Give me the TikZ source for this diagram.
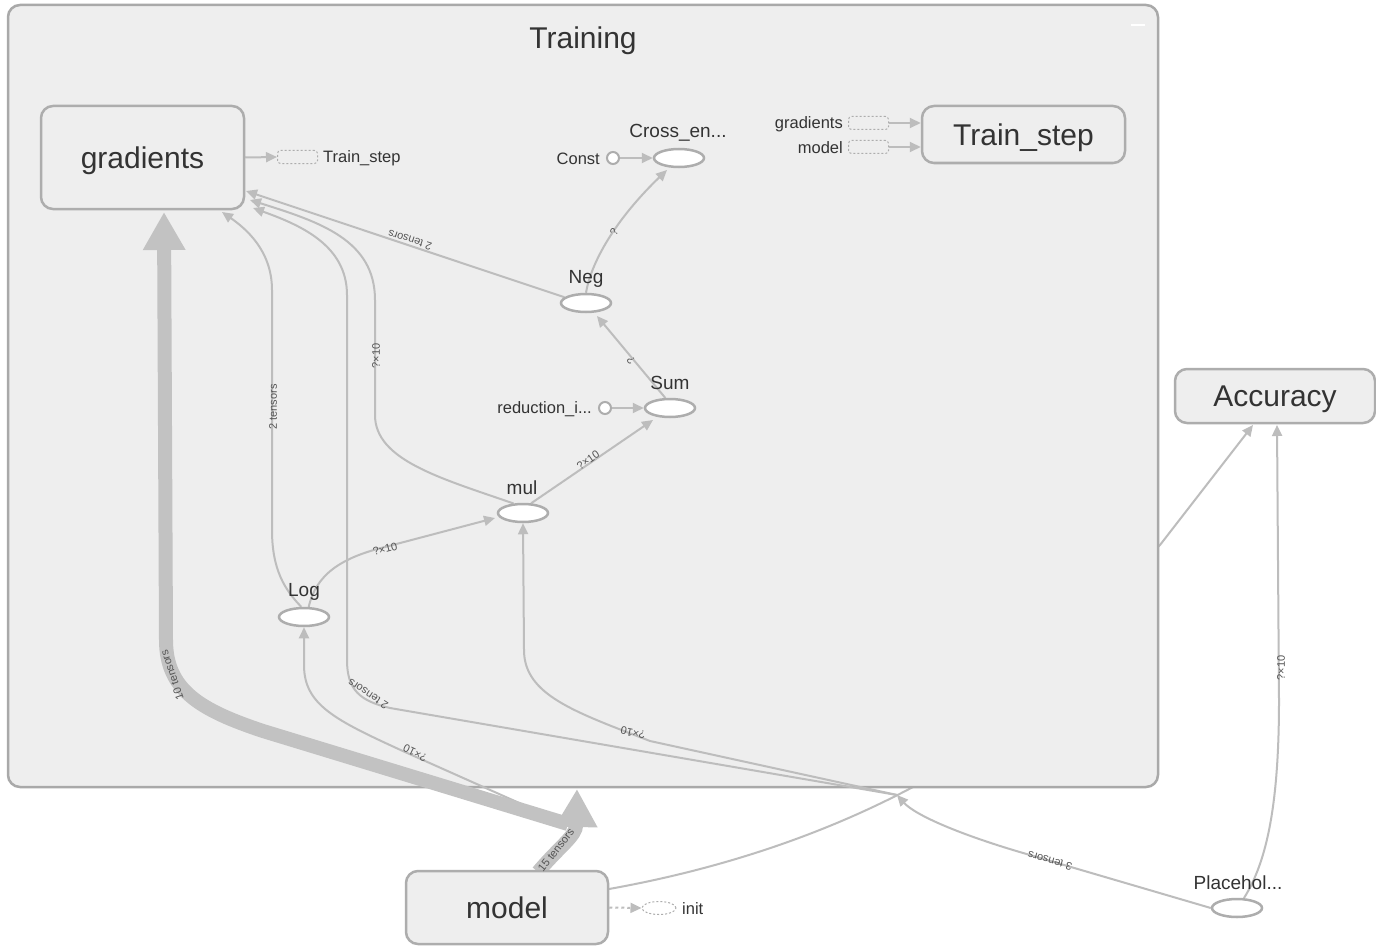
\documentclass[tikz,border=0pt]{standalone}
\usepackage{fontspec}
\setmainfont{Liberation Sans}
\usetikzlibrary{arrows.meta,shapes.geometric}
\pgfdeclarelayer{bg}
\pgfdeclarelayer{edges}
\pgfsetlayers{bg,edges,main}
\definecolor{grpfill}{HTML}{EEEEEE}
\definecolor{grpline}{HTML}{A9A9A9}
\definecolor{nodeline}{HTML}{ADADAD}
\definecolor{edgec}{HTML}{BDBDBD}
\definecolor{thickc}{HTML}{C2C2C2}
\definecolor{txt}{HTML}{333333}
\definecolor{lbl}{HTML}{555555}
\begin{document}
\begin{tikzpicture}[x=1pt,y=-1pt,
  grp/.style={draw=grpline, line width=2.5pt, fill=grpfill, rounded corners=12pt, inner sep=0},
  meta/.style={draw=nodeline, line width=2.5pt, fill=grpfill, rounded corners=12pt, text=txt, font=\fontsize{30}{34}\selectfont, inner sep=0, text depth=0pt},
  op/.style={ellipse, draw=nodeline, line width=2.5pt, fill=white, minimum width=50pt, minimum height=18pt, inner sep=0},
  oplabel/.style={text=txt, font=\fontsize{19}{22}\selectfont, inner sep=0},
  small/.style={text=txt, font=\fontsize{16.5}{20}\selectfont, inner sep=0},
  cst/.style={circle, draw=nodeline, line width=2pt, fill=white, minimum size=12pt, inner sep=0},
  ghost/.style={draw=nodeline, dash pattern=on 2pt off 2pt, line width=1pt, rounded corners=3pt, minimum width=40pt, minimum height=13pt, inner sep=0},
  edge/.style={draw=edgec, line width=2pt, -{Triangle[length=11pt,width=10pt]}},
  thickedge/.style={draw=thickc, line width=14pt, -{Triangle[length=38pt,width=40pt]}},
  elabel/.style={text=lbl, font=\fontsize{11}{13}\selectfont, inner sep=0}]
\useasboundingbox (0,0) rectangle (1376,947);

% ---- nodes
\node[meta, minimum width=203pt, minimum height=103pt] (grad) at (142.5,157.5) {gradients};
\node[ghost] (tsg) at (297.5,157) {};
\node[small, anchor=west] (tsgl) at (323,158.5) {Train\_step};

\node[cst] (const) at (613,158) {};
\node[small, anchor=east] (constl) at (600,159) {Const};
\node[op] (cross) at (679,158) {};
\node[oplabel] (crossl) at (678,133) {Cross\_en...};

\node[meta, minimum width=203pt, minimum height=57pt] (ts) at (1023.5,134.5) {Train\_step};
\node[ghost] (tsin1) at (868.5,123) {};
\node[ghost] (tsin2) at (868.5,147) {};
\node[small, anchor=east] (tsin1l) at (843,124) {gradients};
\node[small, anchor=east] (tsin2l) at (843,148) {model};

\node[op] (neg) at (586,303) {};
\node[oplabel] (negl) at (586,279) {Neg};
\node[op] (sum) at (670,408) {};
\node[oplabel] (suml) at (670,382.5) {Sum};
\node[cst] (red) at (605,408) {};
\node[small, anchor=east] (redl) at (592,409) {reduction\_i...};
\node[op] (mul) at (523,513) {};
\node[oplabel] (mull) at (522,487.5) {mul};
\node[op] (log) at (304,617) {};
\node[oplabel] (logl) at (304,592) {Log};

\node[meta, minimum width=200pt, minimum height=54pt] (acc) at (1275,396) {Accuracy};
\node[meta, minimum width=202pt, minimum height=73pt] (model) at (507,907.5) {model};
\node[ghost, ellipse, minimum width=34pt, minimum height=13pt] (init) at (659,908) {};
\node[small, anchor=west] (initl) at (682,909) {init};
\node[op] (ph) at (1237,908) {};
\node[oplabel] (phl) at (1238,882.5) {Placehol...};

% ---- connector end points
\coordinate (gA) at (246,191);
\coordinate (gB) at (250,200);
\coordinate (gC) at (222,212);
\coordinate (gD) at (253,208);
\coordinate (gT) at (164,212);
\coordinate (crossIn) at (667,170);
\coordinate (negIn) at (597,316);
\coordinate (sumIn) at (653,420);
\coordinate (mulIn) at (495,518);
\coordinate (tIn) at (897,795);
\coordinate (mIn) at (526,806);
\coordinate (m10) at (568,824);
\coordinate (m15s) at (538,872);
\coordinate (m15t) at (577,789);
\coordinate (mOut) at (609,889);
\coordinate (accIn1) at (1253,425);
\coordinate (accIn2) at (1277,425);

% ---- group box and hidden edge
\begin{pgfonlayer}{bg}
\fill[white] (0,0) rectangle (1376,947);
\draw[edge] (mOut) .. controls (760,862) and (860,815) .. (913,787) -- (1160,545) -- (accIn1);
\node[grp, minimum width=1150pt, minimum height=782pt] (training) at (583,396) {};
\end{pgfonlayer}
\node[text=txt, font=\fontsize{30}{34}\selectfont, inner sep=0] (title) at (583,41) {Training};
\draw[white, line width=2pt] (1131,25) -- (1145,25);

% ---- edges
\begin{pgfonlayer}{edges}
\draw[edge] (grad.east) -- (tsg.west);
\draw[edge] (const) -- (cross);
\draw[edge] (tsin1.east) -- (ts.west |- tsin1);
\draw[edge] (tsin2.east) -- (ts.west |- tsin2);
\draw[edge, dash pattern=on 3pt off 3pt] (model.east) -- (init.west);
\draw[edge] (red) -- (sum.west);
\draw[edge] (neg.165) -- (gA);
\draw[edge] (neg.north) .. controls (592,258) and (620,215) .. (crossIn);
\draw[edge] (sum.115) -- (negIn);
\draw[edge] (mul.50) -- (sumIn);
\draw[edge] (log.65) .. controls (316,575) and (340,558) .. (385,547) -- (mulIn);
\draw[edge] (mul.135) .. controls (440,478) and (375,460) .. (375,415) -- (375,300) .. controls (375,240) and (320,222) .. (gB);
\draw[edge] (log.105) .. controls (285,590) and (272,570) .. (272,530) -- (272,290) .. controls (272,250) and (245,228) .. (gC);
\draw[edge] (tIn) -- (390,708) .. controls (360,701) and (347,690) .. (347,660) -- (347,295) .. controls (347,245) and (300,225) .. (gD);
\draw[edge] (tIn) -- (650,741) .. controls (575,712) and (524,695) .. (524,650) -- (mul.south);
\draw[edge] (mIn) -- (405,752) .. controls (335,720) and (304,705) .. (304,665) -- (log.south);
\draw[thickedge] (m10) -- (263,731) .. controls (200,710) and (166,690) .. (166,640) -- (gT);
\draw[thickedge] (m15s) .. controls (560,846) and (576,836) .. (m15t);
\draw[edge] (ph.west) -- (1030,855) .. controls (960,835) and (915,815) .. (tIn);
\draw[edge] (ph.55) .. controls (1268,860) and (1279,800) .. (1279,700) -- (accIn2);
\end{pgfonlayer}

% ---- edge labels
\node[elabel, rotate=162] (la) at (410,240) {2 tensors};
\node[elabel, rotate=60] (lb) at (614,232) {?};
\node[elabel, rotate=129] (lc) at (631,361) {?};
\node[elabel, rotate=35] (ld) at (588,460) {?×10};
\node[elabel, rotate=15] (le) at (385,549) {?×10};
\node[elabel, rotate=90] (lf) at (376,356) {?×10};
\node[elabel, rotate=90] (lg) at (273,407) {2 tensors};
\node[elabel, rotate=147] (lh) at (368,694) {2 tensors};
\node[elabel, rotate=154] (li) at (415,753) {?×10};
\node[elabel, rotate=168] (lj) at (633,733) {?×10};
\node[elabel, rotate=165] (lk) at (1050,861) {3 tensors};
\node[elabel, rotate=90] (ll) at (1281,668) {?×10};
\node[elabel, rotate=109] (lm) at (172,675) {10 tensors};
\node[elabel, rotate=52] (ln) at (556,850) {15 tensors};
\end{tikzpicture}
\end{document}
